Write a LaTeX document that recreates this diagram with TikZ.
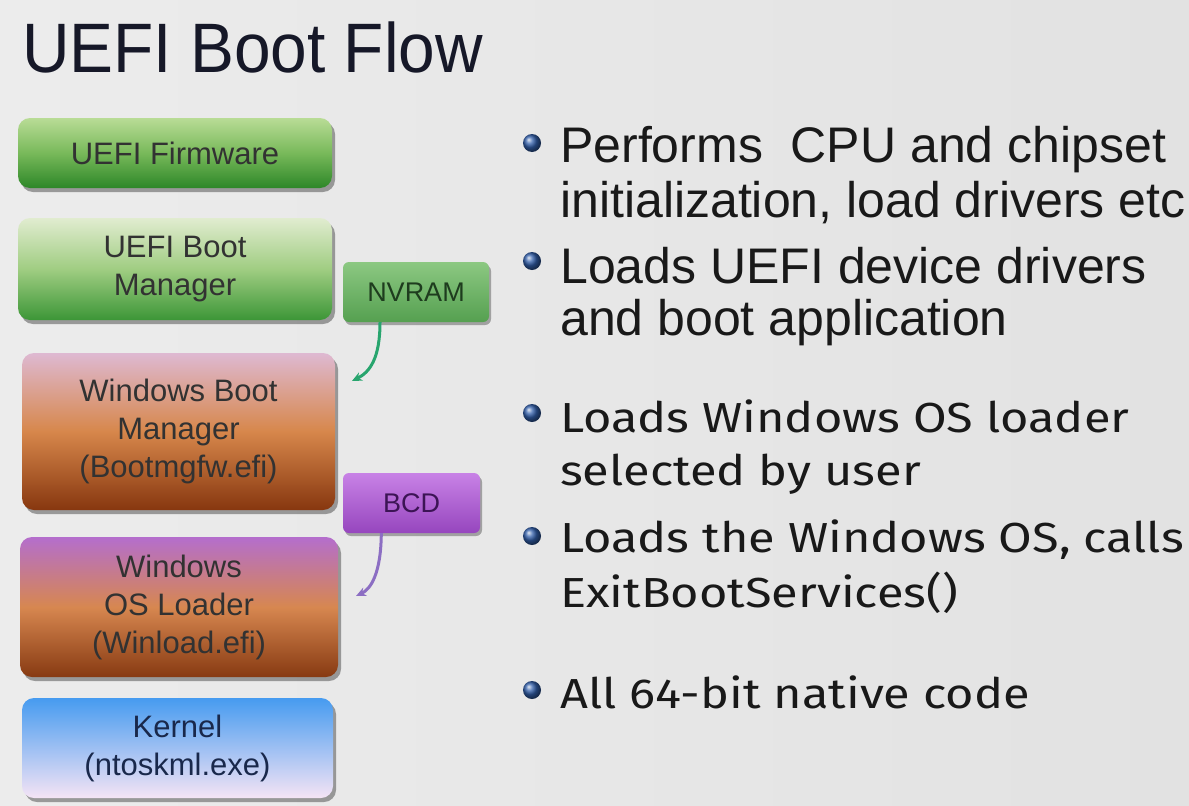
\documentclass[tikz,border=0pt]{standalone}
\usepackage{fontspec}
\setmainfont{Liberation Sans}
\newfontfamily\titlefont[FakeStretch=0.94]{Liberation Sans}
\newfontfamily\bulletfont[FakeStretch=1.16]{Fira Sans}
\usetikzlibrary{shadows,arrows.meta}
\definecolor{txt}{RGB}{50,50,50}
\definecolor{titlecol}{RGB}{22,24,40}
\definecolor{nvline}{RGB}{40,165,110}
\definecolor{bcdline}{RGB}{140,110,195}
\tikzset{
  box/.style={rounded corners=12pt, inner sep=0pt, align=center, text=txt,
    font=\fontsize{31}{38}\selectfont,
    drop shadow={shadow xshift=3pt, shadow yshift=-4pt, opacity=0.35, fill=black}},
  greenA/.style={box, top color={rgb,255:red,185;green,220;blue,150}, bottom color={rgb,255:red,45;green,135;blue,40}, middle color={rgb,255:red,120;green,185;blue,90}},
  greenB/.style={box, top color={rgb,255:red,225;green,236;blue,208}, bottom color={rgb,255:red,60;green,150;blue,55}, middle color={rgb,255:red,160;green,205;blue,130}},
  brownA/.style={box, top color={rgb,255:red,222;green,185;blue,210}, bottom color={rgb,255:red,135;green,55;blue,15}, middle color={rgb,255:red,215;green,135;blue,75}},
  brownB/.style={box, top color={rgb,255:red,180;green,110;blue,205}, bottom color={rgb,255:red,135;green,58;blue,18}, middle color={rgb,255:red,215;green,135;blue,80}},
  blueA/.style={box, text={rgb,255:red,25;green,40;blue,75}, top color={rgb,255:red,70;green,155;blue,240}, bottom color={rgb,255:red,245;green,228;blue,245}},
  tag/.style={rounded corners=6pt, inner sep=0pt, font=\fontsize{27}{30}\selectfont,
    drop shadow={shadow xshift=2pt, shadow yshift=-3pt, opacity=0.3, fill=black}},
  bullet/.style={circle, inner sep=0pt, minimum size=18pt, shading=ball, ball color={rgb,255:red,50;green,95;blue,170}},
  lineA/.style={anchor=base west, inner sep=0pt, text={rgb,255:red,25;green,25;blue,25}, font=\fontsize{50}{56}\selectfont},
  lineB/.style={anchor=base west, inner sep=0pt, text={rgb,255:red,25;green,25;blue,25}, font=\bulletfont\fontsize{42}{48}\selectfont},
  conn/.style={line width=3pt, -{Stealth[length=10pt,width=9pt]}}
}
\begin{document}
\begin{tikzpicture}[x=1pt,y=-1pt]
\shade[left color={rgb,255:red,236;green,236;blue,236}, right color={rgb,255:red,226;green,226;blue,226}] (0,0) rectangle (1189,806);
\useasboundingbox (0,0) rectangle (1189,806);

\node[anchor=base west, inner sep=0pt, text=titlecol, font=\titlefont\fontsize{70}{80}\selectfont] (title) at (22,72) {UEFI Boot Flow};

\node[greenA, minimum width=314pt, minimum height=70pt] (fw) at (175,153) {UEFI Firmware};
\node[greenB, minimum width=314pt, minimum height=102pt] (bm) at (175,269) {UEFI Boot\\Manager};
\node[brownA, minimum width=313pt, minimum height=157pt] (wbm) at (178.5,431.5) {Windows Boot\\Manager\\(Bootmgfw.efi)};
\node[brownB, minimum width=318pt, minimum height=140pt] (osl) at (179,607) {Windows\\OS Loader\\(Winload.efi)};
\node[blueA, minimum width=311pt, minimum height=100pt] (kern) at (177.5,748) {Kernel\\(ntoskml.exe)};

\node[tag, text={rgb,255:red,30;green,60;blue,30}, top color={rgb,255:red,140;green,200;blue,130}, bottom color={rgb,255:red,85;green,160;blue,80}, minimum width=146pt, minimum height=60pt] (nvram) at (416,292) {NVRAM};
\node[tag, text={rgb,255:red,60;green,20;blue,85}, top color={rgb,255:red,200;green,130;blue,230}, bottom color={rgb,255:red,150;green,70;blue,190}, minimum width=137pt, minimum height=60pt] (bcd) at (411.5,503) {BCD};

\coordinate (nvend) at (352,381);
\coordinate (bcdend) at (356,596);
\draw[conn, nvline] (nvram.220) .. controls (380,358) and (370,372) .. (nvend);
\draw[conn, bcdline] (bcd.225.5) .. controls (381,573) and (371,589) .. (bcdend);

\node[bullet] (d1) at (532,143) {};
\node[bullet] (d2) at (532,261) {};
\node[bullet] (d3) at (532,413) {};
\node[bullet] (d4) at (532,536) {};
\node[bullet] (d5) at (532,690) {};

\node[lineA] (t1a) at (560,162) {Performs\ \ CPU and chipset};
\node[lineA] (t1b) at (560,217) {initialization, load drivers etc};
\node[lineA] (t2a) at (560,283) {Loads UEFI device drivers};
\node[lineA] (t2b) at (560,335) {and boot application};
\node[lineB] (t3a) at (560,432) {Loads Windows OS loader};
\node[lineB] (t3b) at (560,485) {selected by user};
\node[lineB] (t4a) at (560,552) {Loads the Windows OS, calls};
\node[lineB] (t4b) at (560,607) {ExitBootServices()};
\node[lineB] (t5) at (560,708) {All 64-bit native code};
\end{tikzpicture}
\end{document}
